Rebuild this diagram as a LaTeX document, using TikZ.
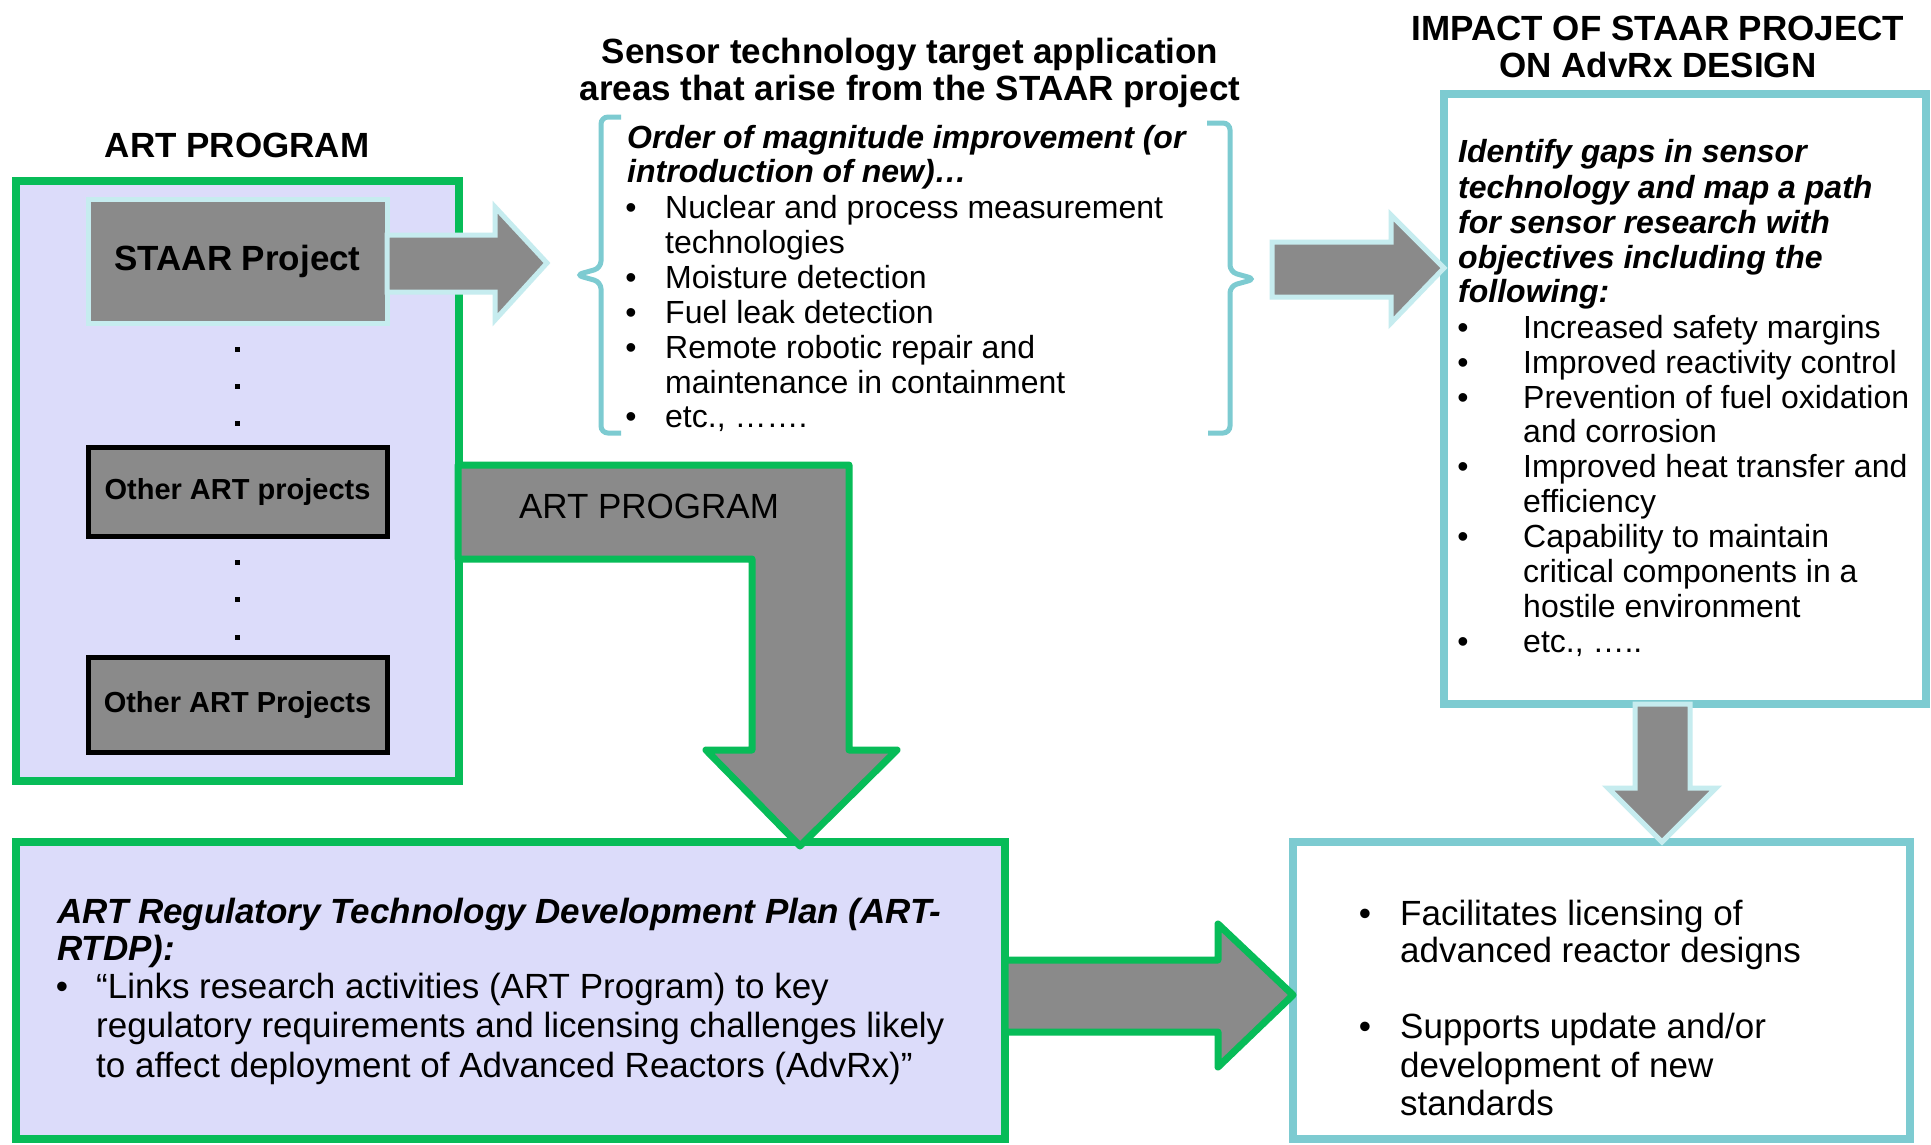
\documentclass[tikz,border=0pt]{standalone}
\usepackage{fontspec}
\setmainfont{Liberation Sans}
\definecolor{artgreen}{HTML}{07BC58}
\definecolor{lav}{HTML}{DCDCFA}
\definecolor{tealc}{HTML}{7DCBD1}
\definecolor{lcyan}{HTML}{C6ECEF}
\definecolor{agray}{HTML}{8A8A8A}
\tikzset{
  gbox/.style={draw=artgreen,line width=8pt,fill=lav,inner sep=0pt,outer sep=0pt},
  tbox/.style={draw=tealc,line width=8pt,fill=white,inner sep=0pt,outer sep=0pt},
  projbox/.style={fill=agray,inner sep=0pt,outer sep=0pt,minimum width=299pt},
  blockarrow/.style={fill=agray,draw=lcyan,line width=5pt,line join=miter},
  greenarrow/.style={fill=agray,draw=artgreen,line width=7pt,line join=round},
  brace/.style={draw=tealc,line width=5pt,rounded corners=7pt},
  ttl/.style={anchor=base,inner sep=0pt,font=\fontsize{35}{38}\selectfont\bfseries},
  ta/.style={anchor=base west,inner sep=0pt,font=\fontsize{32}{35}\selectfont},
  tai/.style={anchor=base west,inner sep=0pt,font=\fontsize{32}{35}\selectfont\bfseries\itshape},
  ba/.style={anchor=base,inner sep=0pt,font=\fontsize{32}{35}\selectfont},
  tb/.style={anchor=base west,inner sep=0pt,font=\fontsize{35}{38}\selectfont},
  tbi/.style={anchor=base west,inner sep=0pt,font=\fontsize{35}{38}\selectfont\bfseries\itshape},
  bb/.style={anchor=base,inner sep=0pt,font=\fontsize{35}{38}\selectfont},
}
\begin{document}
\begin{tikzpicture}[x=1pt,y=-1pt]
\useasboundingbox[fill=white] (0,0) rectangle (1931,1144);

% ---------- left ART PROGRAM box ----------
\node[ttl] (arttitle) at (237,157) {ART PROGRAM};
\node[gbox,minimum width=443pt,minimum height=600pt] (artbox) at (237.5,481) {};
\node[projbox,draw=lcyan,line width=5pt,minimum height=124pt,font=\fontsize{35}{38}\selectfont\bfseries] (staar) at (237.5,261) {STAAR Project};
\node[projbox,draw=black,line width=5pt,minimum height=89pt,font=\fontsize{29}{32}\selectfont\bfseries] (other1) at (237.5,491.5) {Other ART projects};
\node[projbox,draw=black,line width=5pt,minimum height=95pt,font=\fontsize{29}{32}\selectfont\bfseries] (other2) at (237.5,704.5) {Other ART Projects};
\foreach \yy in {349,386,423,562,599,637}{
  \fill (234.5,\yy-2.5) rectangle ++(5,5);
}

% ---------- arrow STAAR -> bracket ----------
\draw[blockarrow] (staar.east |- 0,235) -- (495,235) -- (495,207) -- (547,263) -- (495,320) -- (495,292) -- (staar.east |- 0,292) -- cycle;

% ---------- bracket list ----------
\node[ttl] (sttl1) at (910,63) {Sensor technology target application};
\node[ttl] (sttl2) at (910,100) {areas that arise from the STAAR project};
\draw[brace] (621,117) -- (601,117) -- (601,268) -- (576,275) -- (601,282) -- (601,433) -- (621,433);
\draw[brace] (1207,123) -- (1230,123) -- (1230,272) -- (1255,279) -- (1230,286) -- (1230,433) -- (1208,433);
\node[tai] (oh1) at (627,148) {Order of magnitude improvement (or};
\node[tai] (oh2) at (627,182) {introduction of new)…};
\foreach \yy/\nm in {218/a,288/b,323/c,358/d,427/e}{
  \node[ba] (sb\nm) at (631,\yy) {•};
}
\node[ta] (s1) at (665,218) {Nuclear and process measurement};
\node[ta] (s2) at (665,253) {technologies};
\node[ta] (s3) at (665,288) {Moisture detection};
\node[ta] (s4) at (665,323) {Fuel leak detection};
\node[ta] (s5) at (665,358) {Remote robotic repair and};
\node[ta] (s6) at (665,393) {maintenance in containment};
\node[ta] (s7) at (665,427) {etc., …….};

% ---------- top right box ----------
\node[ttl] (ittl1) at (1658,40) {IMPACT OF STAAR PROJECT};
\node[ttl] (ittl2) at (1658,77) {ON AdvRx DESIGN};
\node[tbox,minimum width=482pt,minimum height=610pt] (impact) at (1685,399) {};
\draw[blockarrow] (1272,242) -- (1391,242) -- (1391,215) -- (impact.west |- 0,268) -- (1391,323) -- (1391,297) -- (1272,297) -- cycle;
\node[tai] (r1) at (1458,162) {Identify gaps in sensor};
\node[tai] (r2) at (1458,198) {technology and map a path};
\node[tai] (r3) at (1458,233) {for sensor research with};
\node[tai] (r4) at (1458,268) {objectives including the};
\node[tai] (r5) at (1458,302) {following:};
\foreach \yy/\nm in {338/a,373/b,408/c,477/d,547/e,652/f}{
  \node[ba] (rb\nm) at (1463,\yy) {•};
}
\node[ta] (q1) at (1523,338) {Increased safety margins};
\node[ta] (q2) at (1523,373) {Improved reactivity control};
\node[ta] (q3) at (1523,408) {Prevention of fuel oxidation};
\node[ta] (q4) at (1523,442) {and corrosion};
\node[ta] (q5) at (1523,477) {Improved heat transfer and};
\node[ta] (q6) at (1523,512) {efficiency};
\node[ta] (q7) at (1523,547) {Capability to maintain};
\node[ta] (q8) at (1523,582) {critical components in a};
\node[ta] (q9) at (1523,617) {hostile environment};
\node[ta] (q10) at (1523,652) {etc., …..};

% ---------- bottom right box ----------
\node[tbox,minimum width=617pt,minimum height=297pt] (facil) at (1601.5,990.5) {};
\draw[blockarrow] (impact.south -| 1635,0) -- (impact.south -| 1690,0) -- (1690,788) -- (1716,788) -- (facil.north -| 1662,0) -- (1608,788) -- (1635,788) -- cycle;
\node[bb] (fb1) at (1365,925) {•};
\node[bb] (fb2) at (1365,1038) {•};
\node[tb] (f1) at (1400,925) {Facilitates licensing of};
\node[tb] (f2) at (1400,962) {advanced reactor designs};
\node[tb] (f3) at (1400,1038) {Supports update and/or};
\node[tb] (f4) at (1400,1077) {development of new};
\node[tb] (f5) at (1400,1115) {standards};

% ---------- bottom left box ----------
\node[gbox,minimum width=989pt,minimum height=297pt] (rtdp) at (510.5,990.5) {};
\draw[greenarrow] (458,465) -- (849,465) -- (849,750) -- (897,750) -- (800,846) -- (706,750) -- (752,750) -- (752,559) -- (458,559) -- cycle;
\node[anchor=base,inner sep=0pt,font=\fontsize{35}{38}\selectfont] (bentlbl) at (649,518) {ART PROGRAM};
\draw[greenarrow] (rtdp.east |- 0,960) -- (1218,960) -- (1218,924) -- (facil.west |- 0,995) -- (1218,1067) -- (1218,1032) -- (rtdp.east |- 0,1032) -- cycle;
\node[tbi] (p1) at (57,923) {ART Regulatory Technology Development Plan (ART-};
\node[tbi] (p2) at (57,960) {RTDP):};
\node[bb] (pb1) at (62,998) {•};
\node[tb] (p3) at (96,998) {“Links research activities (ART Program) to key};
\node[tb] (p4) at (96,1037) {regulatory requirements and licensing challenges likely};
\node[tb] (p5) at (96,1077) {to affect deployment of Advanced Reactors (AdvRx)”};
\end{tikzpicture}
\end{document}
